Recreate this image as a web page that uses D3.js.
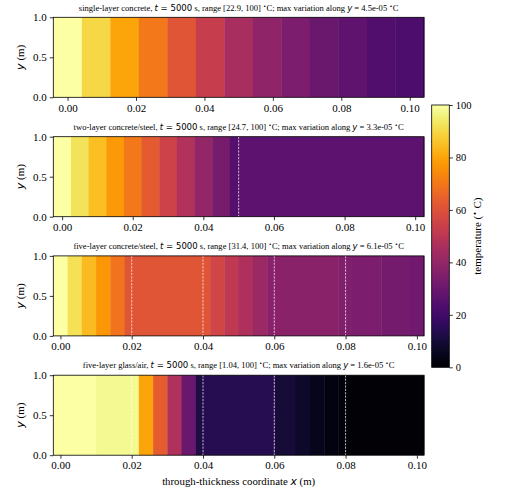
<!DOCTYPE html>
<html>
<head>
<meta charset="utf-8">
<script src="https://cdn.jsdelivr.net/npm/d3@7"></script>
<style>
body { margin: 0; background: #fff; }
text { font-family: "Liberation Serif", serif; fill: #000; }
.math { font-family: "DejaVu Sans", sans-serif; }
</style>
</head>
<body>
<div class="container"></div>
<script>
// cell edges along x (m) and cell temperatures (deg C), one pair per panel
var edges1 = [-0.00417, 0.00417, 0.0125, 0.02083, 0.02917, 0.0375, 0.04583, 0.05417, 0.0625, 0.07083, 0.07917, 0.0875, 0.09583, 0.10417];
var temps1 = [100, 90, 80, 70, 61, 53, 45, 39, 34, 30, 27, 24, 22.9];

var edges2 = [-0.0025, 0.0025, 0.0075, 0.0125, 0.0175, 0.0225, 0.0275, 0.0325, 0.0375, 0.0425, 0.0475, 0.05, 0.1025];
var temps2 = [100, 92.5, 85, 77.5, 70, 62.5, 55, 47.5, 40, 33, 24.7, 26.5];

var edges3 = [-0.002, 0.002, 0.006, 0.010, 0.014, 0.018, 0.042, 0.046, 0.050, 0.054, 0.058, 0.078, 0.082, 0.090, 0.098, 0.102];
var temps3 = [100, 92, 84, 77, 69, 61, 56, 51, 46.5, 42, 37.5, 35.5, 34, 32.8, 31.4];

var edges4 = [-0.002, 0.010, 0.022, 0.026, 0.030, 0.034, 0.038, 0.040, 0.060, 0.066, 0.070, 0.074, 0.078, 0.080, 0.102];
var temps4 = [99.8, 98, 80, 63, 47, 30, 12, 14, 10, 7.5, 5, 3, 2, 1.04];

// layer interfaces (dashed lines)
var iface1 = [];
var iface2 = [0.05];
var iface3 = [0.02, 0.04, 0.06, 0.08];
var iface4 = [0.02, 0.04, 0.06, 0.08];

// title pieces
var names = ["single-layer concrete", "two-layer concrete/steel", "five-layer concrete/steel", "five-layer glass/air"];
var times = [5000, 5000, 5000, 5000];
var ranges = ["[22.9, 100]", "[24.7, 100]", "[31.4, 100]", "[1.04, 100]"];
var variations = ["4.5e-05", "3.3e-05", "6.1e-05", "1.6e-05"];

var xTicks = [0, 0.02, 0.04, 0.06, 0.08, 0.10];
var yTicks = [0, 0.5, 1.0];
var cbTicks = [0, 20, 40, 60, 80, 100];

var panels = [
  {edges: edges1, temps: temps1, iface: iface1},
  {edges: edges2, temps: temps2, iface: iface2},
  {edges: edges3, temps: temps3, iface: iface3},
  {edges: edges4, temps: temps4, iface: iface4}
];

// 画布
var W = 525, H = 490;
var svg = d3.select(".container").append("svg")
  .attr("width", W).attr("height", H);

var plotL = 53.3, plotR = 424, plotH = 80;
var tops = [17.3, 136.7, 255.9, 375.2];

var color = d3.scaleSequential(d3.interpolateInferno).domain([0, 100]);

panels.forEach(function(p, i) {
  var top = tops[i];
  var x = d3.scaleLinear()
    .domain([p.edges[0], p.edges[p.edges.length - 1]])
    .range([plotL, plotR]);
  var y = d3.scaleLinear().domain([0, 1]).range([top + plotH, top]);

  var g = svg.append("g");

  // cells
  g.selectAll("rect.cell")
    .data(p.temps)
    .enter()
    .append("rect")
    .attr("class", "cell")
    .attr("x", function(d, k) { return x(p.edges[k]); })
    .attr("width", function(d, k) { return x(p.edges[k + 1]) - x(p.edges[k]) + 0.4; })
    .attr("y", y(1))
    .attr("height", y(0) - y(1))
    .attr("fill", function(d) { return color(d); });

  // interfaces
  g.selectAll("line.iface")
    .data(p.iface)
    .enter()
    .append("line")
    .attr("x1", function(d) { return x(d); })
    .attr("x2", function(d) { return x(d); })
    .attr("y1", y(1))
    .attr("y2", y(0))
    .attr("stroke", "#fff")
    .attr("stroke-opacity", 0.7)
    .attr("stroke-width", 1)
    .attr("stroke-dasharray", "2.2,1.2");

  // frame
  g.append("rect")
    .attr("x", plotL).attr("y", top)
    .attr("width", plotR - plotL).attr("height", plotH)
    .attr("fill", "none").attr("stroke", "#000").attr("stroke-width", 0.8);

  // axes
  var xa = g.append("g")
    .attr("transform", "translate(0," + (top + plotH) + ")")
    .call(d3.axisBottom(x).tickValues(xTicks).tickFormat(d3.format(".2f"))
      .tickSize(3.5).tickSizeOuter(0).tickPadding(3));
  var ya = g.append("g")
    .attr("transform", "translate(" + plotL + ",0)")
    .call(d3.axisLeft(y).tickValues(yTicks).tickFormat(d3.format(".1f"))
      .tickSize(3.5).tickSizeOuter(0).tickPadding(3));
  [xa, ya].forEach(function(a) {
    a.select(".domain").remove();
    a.selectAll("line").attr("stroke", "#000").attr("stroke-width", 0.8);
    a.selectAll("text").attr("font-family", "Liberation Serif").attr("font-size", 11);
  });

  // y label
  var yl = g.append("text")
    .attr("transform", "translate(24," + (top + plotH / 2) + ") rotate(-90)")
    .attr("text-anchor", "middle")
    .attr("font-size", 11);
  yl.append("tspan").attr("class", "math").attr("font-style", "italic").text("y");
  yl.append("tspan").text(" (m)");

  // title
  var t = g.append("text")
    .attr("x", (plotL + plotR) / 2)
    .attr("y", top - 6.8)
    .attr("text-anchor", "middle")
    .attr("font-size", 8.55);
  t.append("tspan").text(names[i] + ", ");
  t.append("tspan").attr("class", "math").attr("font-style", "italic").text("t");
  t.append("tspan").attr("class", "math").text(" = " + times[i]);
  t.append("tspan").text(" s, range " + ranges[i] + " ");
  t.append("tspan").attr("class", "math").attr("font-size", 5.5).attr("dy", -3).text("\u2219");
  t.append("tspan").attr("dy", 3).text("C; max variation along ");
  t.append("tspan").attr("class", "math").attr("font-style", "italic").text("y");
  t.append("tspan").text(" = " + variations[i] + " ");
  t.append("tspan").attr("class", "math").attr("font-size", 5.5).attr("dy", -3).text("\u2219");
  t.append("tspan").attr("dy", 3).text("C");
});

// x label
var xl = svg.append("text")
  .attr("x", (plotL + plotR) / 2)
  .attr("y", 485)
  .attr("text-anchor", "middle")
  .attr("font-size", 10.8);
xl.append("tspan").text("through-thickness coordinate ");
xl.append("tspan").attr("class", "math").attr("font-style", "italic").text("x");
xl.append("tspan").text(" (m)");

// colorbar
var cbL = 431.7, cbW = 17.6, cbTop = 105, cbBot = 367.3;
var cy = d3.scaleLinear().domain([0, 100]).range([cbBot, cbTop]);
var grad = svg.append("defs").append("linearGradient")
  .attr("id", "cbgrad")
  .attr("x1", 0).attr("y1", 1).attr("x2", 0).attr("y2", 0);
d3.range(0, 101, 2).forEach(function(v) {
  grad.append("stop").attr("offset", v / 100).attr("stop-color", color(v));
});
svg.append("rect")
  .attr("x", cbL).attr("y", cbTop)
  .attr("width", cbW).attr("height", cbBot - cbTop)
  .attr("fill", "url(#cbgrad)")
  .attr("stroke", "#000").attr("stroke-width", 0.8);
var ca = svg.append("g")
  .attr("transform", "translate(" + (cbL + cbW) + ",0)")
  .call(d3.axisRight(cy).tickValues(cbTicks).tickFormat(d3.format("d"))
    .tickSize(3.5).tickSizeOuter(0).tickPadding(3));
ca.select(".domain").remove();
ca.selectAll("line").attr("stroke", "#000").attr("stroke-width", 0.8);
ca.selectAll("text").attr("font-family", "Liberation Serif").attr("font-size", 10.5);

var cl = svg.append("text")
  .attr("transform", "translate(481," + ((cbTop + cbBot) / 2) + ") rotate(-90)")
  .attr("text-anchor", "middle")
  .attr("font-size", 11);
cl.append("tspan").text("temperature (");
cl.append("tspan").attr("class", "math").attr("font-size", 7).attr("dy", -4).text("\u2219");
cl.append("tspan").attr("dy", 4).text(" C)");
</script>
</body>
</html>
